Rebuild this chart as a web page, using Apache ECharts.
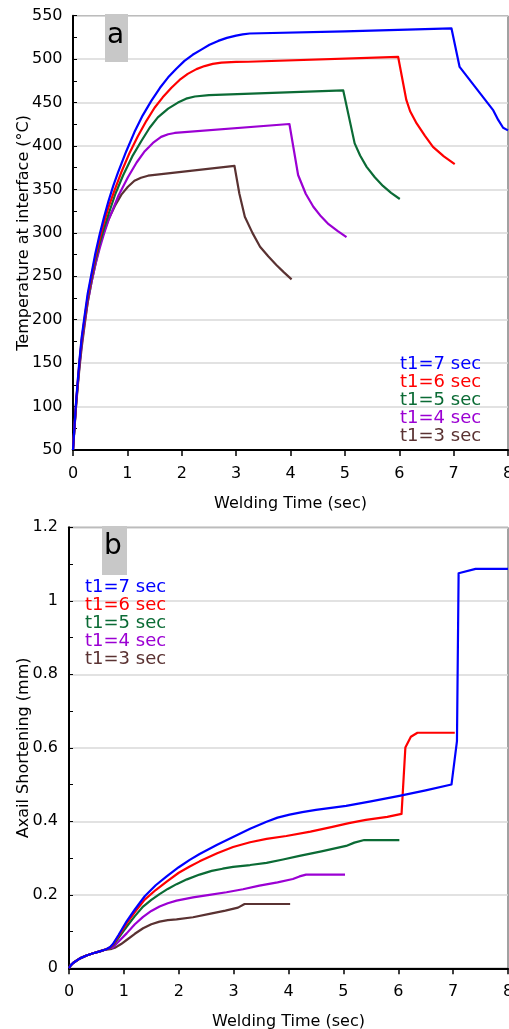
<!DOCTYPE html>
<html>
<head>
<meta charset="utf-8">
<script src="https://cdn.jsdelivr.net/npm/echarts@6/dist/echarts.min.js"></script>
<style>
html,body{margin:0;padding:0;background:#fff;}
#c{width:509px;height:1029px;}
</style>
</head>
<body>
<div id="c"></div>
<script>
// ---------- Data ----------
const seriesNames = ['t1=7 sec','t1=6 sec','t1=5 sec','t1=4 sec','t1=3 sec'];
const seriesColors = ['#0000ff','#ff0000','#0b6b35','#9b00d3','#5a3232'];

// Chart (a): temperature at interface (°C) vs welding time (sec)
const tempT7 = [[0,50],[0.02,70],[0.04,90],[0.06,108],[0.09,132],[0.12,154],[0.16,180],[0.21,203],[0.27,230],[0.34,253],[0.41,276],[0.49,298],[0.57,318],[0.65,336],[0.74,354],[0.83,370],[0.98,394],[1.13,416],[1.28,435],[1.44,452],[1.6,467],[1.75,479],[1.9,489],[2.05,498],[2.2,505],[2.36,511],[2.51,516.5],[2.67,521],[2.83,524.5],[3.0,527],[3.12,528.5],[3.25,529.5],[5.0,532],[6.96,535.5],[7.11,491],[7.42,466],[7.73,441],[7.82,430],[7.91,421],[8.0,418]];
const tempT6 = [[0,50],[0.02,70],[0.04,89],[0.06,107],[0.09,130],[0.12,152],[0.16,177],[0.21,200],[0.27,226],[0.34,250],[0.41,272],[0.49,293],[0.57,312],[0.65,329],[0.77,350],[0.89,370],[1.04,392],[1.19,411],[1.35,429],[1.5,444],[1.65,456],[1.81,467],[1.96,476],[2.11,483],[2.27,488.5],[2.42,492],[2.57,494.5],[2.73,496],[3.0,496.8],[3.22,497],[5.98,502.5],[6.13,453],[6.2,440],[6.32,426],[6.47,412],[6.62,399],[6.82,388],[7.02,379]];
const tempT5 = [[0,50],[0.02,70],[0.04,88],[0.06,106],[0.09,128],[0.12,150],[0.16,175],[0.21,198],[0.27,223],[0.34,247],[0.41,268],[0.49,288],[0.57,305],[0.65,321],[0.78,345],[0.92,366],[1.09,388],[1.26,406],[1.41,421],[1.56,433],[1.75,443],[1.93,450],[2.08,454.5],[2.24,457],[2.5,458.5],[4.97,464],[5.18,403],[5.28,389],[5.4,376],[5.55,364],[5.7,354],[5.85,346],[6.01,339]];
const tempT4 = [[0,50],[0.02,70],[0.04,87],[0.06,105],[0.09,127],[0.12,148],[0.16,172],[0.21,195],[0.27,220],[0.34,243],[0.41,263],[0.49,282],[0.57,299],[0.65,314],[0.83,342],[1.01,364],[1.17,381],[1.32,394],[1.47,403.5],[1.62,410.5],[1.75,413.5],[1.87,415],[3.98,425.3],[4.14,366.6],[4.28,345],[4.42,330],[4.56,319],[4.7,310],[4.87,302],[5.03,295]];
const tempT3 = [[0,50],[0.02,68],[0.04,86],[0.06,103],[0.09,125],[0.12,145],[0.16,168],[0.21,192],[0.27,220],[0.34,243],[0.42,266],[0.5,288],[0.58,303],[0.65,315],[0.77,331],[0.89,344],[1.01,353],[1.13,360],[1.25,363.5],[1.38,365.8],[2.97,377],[3.06,345],[3.16,318.6],[3.3,300],[3.44,284],[3.59,273],[3.74,263],[3.88,254.5],[4.02,246.5]];

// Chart (b): axial shortening (mm) vs welding time (sec)
const shortT7 = [[0,0],[0.03,0.008],[0.08,0.015],[0.2,0.027],[0.32,0.035],[0.44,0.041],[0.56,0.046],[0.68,0.052],[0.75,0.058],[0.8,0.066],[0.9,0.09],[1.05,0.128],[1.2,0.16],[1.38,0.196],[1.58,0.226],[1.78,0.25],[2.0,0.275],[2.2,0.295],[2.38,0.311],[2.7,0.336],[2.99,0.357],[3.3,0.38],[3.6,0.399],[3.8,0.41],[4.02,0.418],[4.25,0.425],[4.5,0.431],[5.05,0.442],[5.5,0.454],[6.02,0.469],[6.5,0.484],[6.97,0.5],[7.07,0.618],[7.1,1.075],[7.41,1.087],[8.0,1.087]];
const shortT6 = [[0,0],[0.03,0.008],[0.08,0.015],[0.2,0.027],[0.32,0.035],[0.44,0.041],[0.56,0.046],[0.68,0.052],[0.75,0.057],[0.8,0.064],[0.9,0.087],[1.05,0.122],[1.2,0.153],[1.38,0.187],[1.58,0.213],[1.78,0.236],[2.0,0.26],[2.2,0.277],[2.38,0.291],[2.7,0.313],[2.99,0.33],[3.3,0.343],[3.6,0.352],[3.96,0.36],[4.4,0.372],[4.8,0.385],[5.1,0.395],[5.41,0.404],[5.8,0.412],[6.06,0.42],[6.13,0.601],[6.23,0.63],[6.35,0.641],[7.03,0.641]];
const shortT5 = [[0,0],[0.03,0.008],[0.08,0.015],[0.2,0.027],[0.32,0.035],[0.44,0.041],[0.56,0.046],[0.68,0.052],[0.75,0.056],[0.8,0.062],[0.9,0.082],[1.05,0.113],[1.2,0.142],[1.35,0.168],[1.5,0.186],[1.65,0.202],[1.8,0.216],[1.96,0.229],[2.15,0.242],[2.38,0.255],[2.6,0.265],[2.8,0.271],[2.99,0.276],[3.3,0.281],[3.6,0.287],[3.9,0.296],[4.2,0.306],[4.6,0.318],[5.05,0.333],[5.2,0.342],[5.38,0.349],[6.02,0.349]];
const shortT4 = [[0,0],[0.03,0.008],[0.08,0.015],[0.2,0.027],[0.32,0.035],[0.44,0.041],[0.56,0.046],[0.68,0.052],[0.8,0.057],[0.9,0.072],[1.05,0.095],[1.2,0.12],[1.35,0.14],[1.5,0.156],[1.65,0.168],[1.8,0.177],[1.96,0.184],[2.26,0.193],[2.56,0.2],[2.87,0.207],[3.17,0.215],[3.47,0.225],[3.8,0.234],[4.08,0.243],[4.2,0.25],[4.32,0.255],[5.03,0.255]];
const shortT3 = [[0,0],[0.03,0.008],[0.08,0.015],[0.2,0.027],[0.32,0.035],[0.44,0.041],[0.56,0.046],[0.68,0.051],[0.78,0.053],[0.85,0.057],[0.95,0.066],[1.05,0.077],[1.2,0.094],[1.35,0.109],[1.5,0.12],[1.65,0.127],[1.8,0.131],[1.96,0.133],[2.26,0.139],[2.56,0.148],[2.85,0.157],[3.08,0.165],[3.2,0.175],[4.03,0.175]];

const tempSeries = [tempT7,tempT6,tempT5,tempT4,tempT3];
const shortSeries = [shortT7,shortT6,shortT5,shortT4,shortT3];

// ---------- Chart ----------
const FONT = 'DejaVu Sans';
const chart = echarts.init(document.getElementById('c'), null, {renderer:'canvas'});

function xAxis(gridIndex){
  return {
    type:'value', gridIndex, min:0, max:8, interval:1,
    name:'Welding Time (sec)', nameLocation:'middle', nameGap:46,
    nameMoveOverlap:false,
    nameTextStyle:{fontFamily:FONT,fontSize:16,color:'#000'},
    axisLine:{show:true,lineStyle:{color:'#000',width:2}},
    axisTick:{show:true,inside:false,length:6,lineStyle:{color:'#000',width:1.5}},
    axisLabel:{fontFamily:FONT,fontSize:16,color:'#000',margin:16},
    splitLine:{show:false}
  };
}

const option = {
  animation:false,
  backgroundColor:'#fff',
  grid:[
    {left:73,top:15.7,right:1,height:434.3,show:true,borderColor:'#444',borderWidth:1,containLabel:false,outerBoundsMode:'none'},
    {left:69,top:527.3,right:1,height:441,show:true,borderColor:'#444',borderWidth:1,containLabel:false,outerBoundsMode:'none'}
  ],
  xAxis:[xAxis(0), xAxis(1)],
  yAxis:[
    {
      type:'value', gridIndex:0, min:50, max:550, interval:50,
      name:'Temperature at interface (°C)', nameLocation:'middle', nameGap:41,
      nameMoveOverlap:false,
      nameTextStyle:{fontFamily:FONT,fontSize:16,color:'#000'},
      axisLine:{show:true,lineStyle:{color:'#000',width:2}},
      axisTick:{show:true,inside:true,length:4,lineStyle:{color:'#000'}},
      minorTick:{show:true,splitNumber:2,length:4,lineStyle:{color:'#000'}},
      axisLabel:{fontFamily:FONT,fontSize:16,color:'#000',margin:10.5},
      splitLine:{show:true,lineStyle:{color:'#d9d9d9',width:1.5}}
    },
    {
      type:'value', gridIndex:1, min:0, max:1.2, interval:0.2,
      name:'Axail Shortening (mm)', nameLocation:'middle', nameGap:37.5,
      nameMoveOverlap:false,
      nameTextStyle:{fontFamily:FONT,fontSize:16,color:'#000'},
      axisLine:{show:true,lineStyle:{color:'#000',width:2}},
      axisTick:{show:true,inside:true,length:4,lineStyle:{color:'#000'}},
      minorTick:{show:true,splitNumber:2,length:4,lineStyle:{color:'#000'}},
      axisLabel:{fontFamily:FONT,fontSize:16,color:'#000',margin:11},
      splitLine:{show:true,lineStyle:{color:'#d9d9d9',width:1.5}}
    }
  ],
  legend:[
    {
      orient:'vertical', left:395, top:355, icon:'none', itemWidth:0, itemHeight:8, itemGap:0,
      selectedMode:false, padding:0,
      textStyle:{fontFamily:FONT,fontSize:18,lineHeight:17.7,padding:0},
      data:seriesNames.map((n,i)=>({name:n,textStyle:{color:seriesColors[i]}}))
    },
    {
      orient:'vertical', left:80, top:578, icon:'none', itemWidth:0, itemHeight:8, itemGap:0,
      selectedMode:false, padding:0,
      textStyle:{fontFamily:FONT,fontSize:18,lineHeight:17.7,padding:0},
      data:seriesNames.map((n,i)=>({name:n,textStyle:{color:seriesColors[i]}}))
    }
  ],
  graphic:[
    {type:'rect',left:105,top:14,shape:{width:23,height:48},style:{fill:'#c8c8c8'},z:10},
    {type:'text',left:107,top:22,style:{text:'a',font:'28px "DejaVu Sans"',fill:'#000'},z:11},
    {type:'rect',left:102,top:526,shape:{width:25,height:49},style:{fill:'#c8c8c8'},z:10},
    {type:'text',left:104,top:533,style:{text:'b',font:'28px "DejaVu Sans"',fill:'#000'},z:11}
  ],
  series:[]
};

seriesNames.forEach((n,i)=>{
  option.series.push({name:n,type:'line',xAxisIndex:0,yAxisIndex:0,data:tempSeries[i],showSymbol:false,symbol:'none',smooth:false,lineStyle:{color:seriesColors[i],width:2.2,join:'round'},itemStyle:{color:seriesColors[i]},z:3+(4-i)});
});
seriesNames.forEach((n,i)=>{
  option.series.push({name:n,type:'line',xAxisIndex:1,yAxisIndex:1,data:shortSeries[i],showSymbol:false,symbol:'none',smooth:false,lineStyle:{color:seriesColors[i],width:2.2,join:'round'},itemStyle:{color:seriesColors[i]},z:3+(4-i)});
});

chart.setOption(option);
</script>
</body>
</html>
